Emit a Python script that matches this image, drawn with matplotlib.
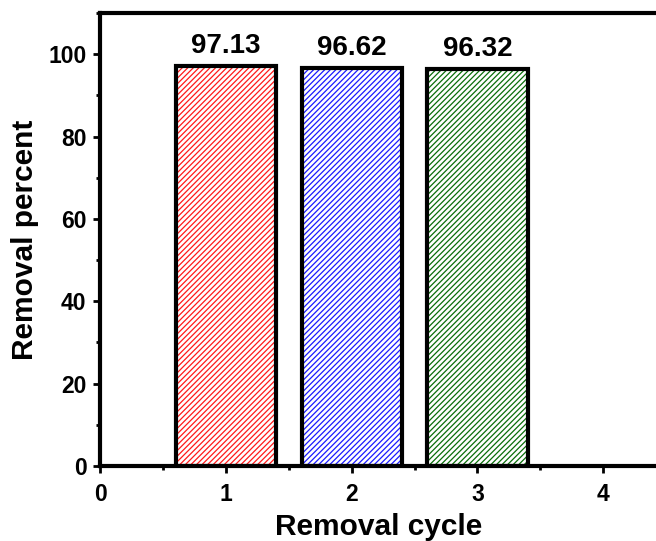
import matplotlib
matplotlib.use("Agg")
import matplotlib.pyplot as plt
from matplotlib.ticker import MultipleLocator

cycles = [1, 2, 3]
removal = [97.13, 96.62, 96.32]
labels = ["97.13", "96.62", "96.32"]
colors = ["#ff1a1a", "#1a1aff", "#0a6e0a"]
xticks = [0, 1, 2, 3, 4]
yticks = [0, 20, 40, 60, 80, 100]

plt.rcParams['font.family'] = ['Liberation Sans', 'DejaVu Sans']
plt.rcParams['font.weight'] = 'bold'
plt.rcParams['hatch.linewidth'] = 0.9

fig = plt.figure(figsize=(6.56, 5.41), dpi=100)
ax = fig.add_axes([0.153, 0.1386, 0.847, 0.8374])

for x, v, c in zip(cycles, removal, colors):
    ax.bar(x, v, width=0.8, facecolor='white', edgecolor=c, hatch='//////', linewidth=0, zorder=2)
ax.bar(cycles, removal, width=0.8, fill=False, edgecolor='black', linewidth=3, zorder=3)

for x, v, t in zip(cycles, removal, labels):
    ax.annotate(t, (x, v), xytext=(0, 5), textcoords='offset points', ha='center', va='bottom',
                fontsize=20, fontweight='bold')

ax.set_xlim(0, 4.42)
ax.set_ylim(0, 110)
ax.set_xticks(xticks)
ax.set_yticks(yticks)
ax.xaxis.set_minor_locator(MultipleLocator(0.5))
ax.yaxis.set_minor_locator(MultipleLocator(10))

for s in ['left', 'bottom', 'top']:
    ax.spines[s].set_linewidth(3)
ax.spines['right'].set_visible(False)

ax.tick_params(which='major', direction='out', length=5, width=2, labelsize=16.5, pad=5)
ax.tick_params(which='minor', direction='out', length=3, width=2)
ax.tick_params(axis='x', which='major', pad=7)
for lab in ax.get_xticklabels() + ax.get_yticklabels():
    lab.set_fontweight('bold')

ax.set_xlabel('Removal cycle', fontsize=21.5, fontweight='bold', labelpad=5)
ax.set_ylabel('Removal percent', fontsize=21.5, fontweight='bold', labelpad=7)

fig.savefig('out.png', dpi=100)
